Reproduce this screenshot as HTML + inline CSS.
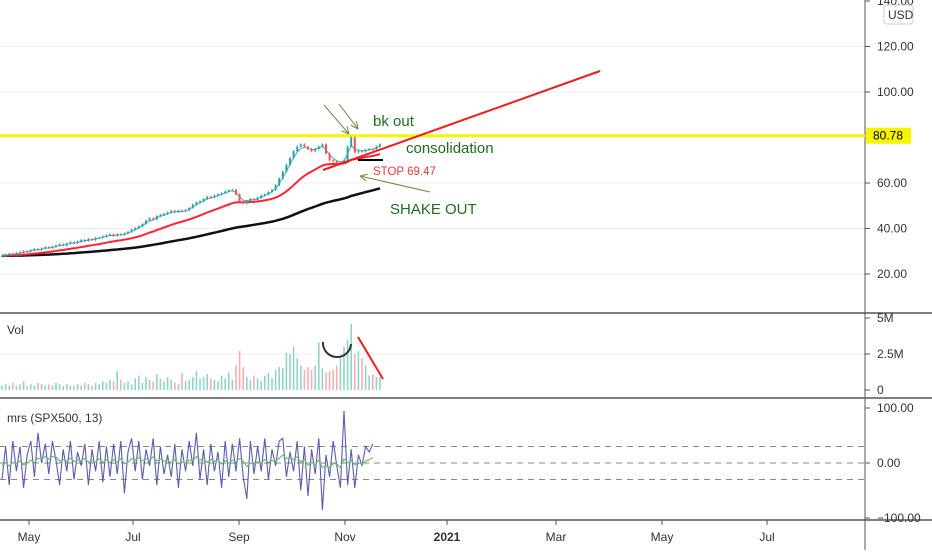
<!DOCTYPE html>
<html><head><meta charset="utf-8"><style>
body{margin:0;background:#fff;font-family:"Liberation Sans",sans-serif}
svg text{font-family:"Liberation Sans",sans-serif}
</style></head><body>
<svg id="c" width="932" height="550" xmlns="http://www.w3.org/2000/svg"></svg>
<script>
const closes=[28,28.5,29,28.6,29.2,29.5,30,29.8,30.5,31,30.6,31.2,31.8,31.5,
32,32.5,33,32.6,33.4,34,33.6,34.2,35,34.6,35.4,35,35.8,36,
36.5,37,37.4,36.8,37.5,37.2,37.8,38.5,39.5,40.2,41,
42,43.5,44.5,44,45.5,46,
46.5,47,47.8,47.3,47.8,47.5,48,
49,50.5,51.5,52,
53,54,53.6,54.5,55,55.5,56.3,56.8,
57,55,52,
51,52,53,52.5,53.5,54.5,55,
56,57,59,62,
65,68,71,74,76,77,
76,75,74,75,76,77,73,
70,69.5,68.5,69,70,76,
80,73.5,74,73.8,74.5,75,74.8,76,77];
const volumes=[0.3,0.4,0.3,0.5,0.3,0.4,0.6,0.3,0.4,0.3,0.5,0.4,0.3,0.4,0.3,0.5,0.4,0.3,0.4,0.3,0.3,0.4,0.3,0.5,0.4,0.3,0.5,0.4,
0.6,0.5,0.7,0.6,1.3,0.7,0.5,0.6,0.4,0.8,1.0,0.5,0.9,0.7,0.6,1.1,0.8,0.6,0.9,0.7,0.5,0.4,1.2,0.6,0.7,0.9,1.3,0.8,
0.9,1.1,0.8,0.7,0.6,1.0,0.8,1.2,0.7,1.7,2.7,1.6,0.9,0.7,1.0,0.8,0.6,1.0,1.2,0.8,1.4,1.6,1.5,2.6,2.5,3.0,2.2,1.7,
1.4,1.6,1.4,1.7,3.3,1.5,1.2,1.3,1.4,1.7,2.2,3.0,3.5,4.6,2.5,2.7,2.2,1.7,1.0,1.1,0.9,0.9];
const mrsVals=[-30,30,-40,40,-15,30,-45,15,40,-25,55,0,35,-20,40,5,-40,25,-15,40,-30,20,-5,35,-40,25,-15,40,
-35,30,-25,35,-20,40,-55,20,45,-15,40,-30,25,-5,45,-40,30,-20,15,-25,35,-45,25,-15,40,-5,55,-30,
25,-40,35,-15,20,-45,40,-25,35,-15,45,-25,-65,40,-20,30,-15,45,-30,25,-5,40,45,-25,20,-15,40,-50,
30,-60,25,-20,45,-85,15,-25,40,-5,-45,95,-40,25,-45,15,-5,30,20,35];
const W=932,svg=document.getElementById('c'),NS='http://www.w3.org/2000/svg';
function el(t,a,txt){const e=document.createElementNS(NS,t);for(const k in a)e.setAttribute(k,a[k]);if(txt!==undefined)e.textContent=txt;svg.appendChild(e);return e;}
const AX=865;
const xb=i=>2+i*3.6;
const yP=p=>274-(p-20)*2.275;
const yV=v=>390-v*14.4;
const yM=m=>463-m*0.55;
[120,100,60,40,20].forEach(p=>{let g=el('line',{x1:0,x2:AX,y1:yP(p),y2:yP(p),stroke:'#eceef2'});
});
let g2=el('line',{x1:0,x2:AX,y1:yV(2.5),y2:yV(2.5),stroke:'#eceef2'});

[30,0,-30].forEach(m=>{let d=el('line',{x1:0,x2:AX,y1:yM(m),y2:yM(m),stroke:'#888','stroke-dasharray':'6,5'});
});
[[313,'price-volume-divider'],[398,'volume-mrs-divider'],[520,'time-axis-divider']].forEach(([y,n])=>{let l=el('line',{x1:0,x2:W,y1:y,y2:y,stroke:'#555','stroke-width':1.5});
});
let av=el('line',{x1:AX,x2:AX,y1:0,y2:550,stroke:'#555'});

[140,120,100,60,40,20].forEach(p=>{let t=el('text',{x:877,y:yP(p)+4,'font-size':12,fill:'#333'},p.toFixed(2));

el('line',{x1:AX,x2:AX+5,y1:yP(p),y2:yP(p),stroke:'#555'});});
[[5,'5M'],[2.5,'2.5M'],[0,'0']].forEach(([v,s])=>{let t=el('text',{x:877,y:yV(v)+4,'font-size':12,fill:'#333'},s);

el('line',{x1:AX,x2:AX+5,y1:yV(v),y2:yV(v),stroke:'#555'});});
[[100,'100.00'],[0,'0.00'],[-100,'−100.00']].forEach(([v,s])=>{let t=el('text',{x:877,y:yM(v)+4,'font-size':12,fill:'#333'},s);

el('line',{x1:AX,x2:AX+5,y1:yM(v),y2:yM(v),stroke:'#555'});});
let usd=el('rect',{x:884,y:5,width:29,height:19,rx:3,fill:'#fff',stroke:'#ccc'});

el('text',{x:888,y:19,'font-size':12,fill:'#333'},'USD');
const months=['May','Jul','Sep','Nov','2021','Mar','May','Jul'];const mx=[29,133,239,345,447,556,662,767];
months.forEach((m,i)=>{el('line',{x1:mx[i],x2:mx[i],y1:520,y2:525,stroke:'#555'});
let t=el('text',{x:mx[i],y:541,'font-size':12,fill:'#333','text-anchor':'middle','font-weight':m==='2021'?'bold':'normal'},m);
});
let yl=el('line',{x1:0,x2:AX,y1:yP(80.78),y2:yP(80.78),stroke:'#f5f500','stroke-width':3});

let yb=el('rect',{x:AX+1,y:yP(80.78)-8,width:45,height:16,fill:'#f5f500'});

el('text',{x:873,y:yP(80.78)+4,'font-size':12,fill:'#000'},'80.78');
function ema(n){let o=[],a=2/(n+1),v=closes[0];closes.forEach(c=>{v=v+a*(c-v);o.push(v);});return o;}
function line(arr,col,w,name){let d=arr.map((v,i)=>(i?'L':'M')+xb(i).toFixed(1)+','+yP(v).toFixed(1)).join('');
let p=el('path',{d,fill:'none',stroke:col,'stroke-width':w});}
line(ema(90),'#111',2.5,'moving-average-slow');
line(ema(22),'#f23',2,'moving-average-mid');
line(ema(3),'#4aa3df',1,'moving-average-fast');
closes.forEach((c,i)=>{const o=i?closes[i-1]:c-0.3;const up=c>=o;const col=up?'#26a69a':'#ef5350';
const hi=Math.max(o,c)+0.5,lo=Math.min(o,c)-0.5,x=xb(i);
el('line',{x1:x,x2:x,y1:yP(hi),y2:yP(lo),stroke:col,'stroke-width':0.8});
let r=el('rect',{x:x-1,y:yP(Math.max(o,c)),width:2,height:Math.max(1,Math.abs(yP(o)-yP(c))),fill:col});

const v=volumes[i];let b=el('rect',{x:x-0.8,y:yV(v),width:1.6,height:390-yV(v),fill:up?'#8fd3ca':'#f5b0ae'});
});
let md=mrsVals.map((v,i)=>(i?'L':'M')+xb(i).toFixed(1)+','+yM(v).toFixed(1)).join('');
let mp=el('path',{d:md,fill:'none',stroke:'#5b5bb0','stroke-width':1.1});
let sm=[],s=0;mrsVals.forEach(v=>{s=s+0.15*(v-s);sm.push(s);});
let sd=sm.map((v,i)=>(i?'L':'M')+xb(i).toFixed(1)+','+yM(v).toFixed(1)).join('');
let sp=el('path',{d:sd,fill:'none',stroke:'#6cbf6c','stroke-width':1.2});
let vt=el('text',{x:7,y:334,'font-size':12,fill:'#333'},'Vol');
let mt=el('text',{x:7,y:422,'font-size':12,fill:'#333'},'mrs (SPX500, 13)');
let tl=el('line',{x1:323,y1:170,x2:600,y2:71,stroke:'#f01c1c','stroke-width':2});
let bl=el('line',{x1:358,y1:160,x2:383,y2:160,stroke:'#000','stroke-width':2});
function arrow(x1,y1,x2,y2,name){let a=el('line',{x1,y1,x2,y2,stroke:'#6a8a3a','stroke-width':1});
const ang=Math.atan2(y2-y1,x2-x1),L=8;[0.45,-0.45].forEach(d=>el('line',{x1:x2,y1:y2,x2:x2-L*Math.cos(ang+d),y2:y2-L*Math.sin(ang+d),stroke:'#6a8a3a'}));}
arrow(324,105,349,134,'arrow-1');arrow(339,104,358,129,'arrow-2');arrow(430,192,360,176,'shake-out-arrow');
const ann=[[373,126,'bk out',15,'#1f6b1f','bk-out-label'],[406,153,'consolidation',15,'#1f6b1f','consolidation-label'],[373,175,'STOP 69.47',11.5,'#e53935','stop-label'],[390,214,'SHAKE OUT',15,'#1f6b1f','shake-out-label']];
ann.forEach(a=>{let t=el('text',{x:a[0],y:a[1],'font-size':a[3],fill:a[4]},a[2]);});
let arc=el('path',{d:'M323,342 A14,14 0 0 0 351,344',fill:'none',stroke:'#333','stroke-width':2});
let vl=el('line',{x1:358,y1:337,x2:383,y2:379,stroke:'#f01c1c','stroke-width':2});
</script>
</body></html>
